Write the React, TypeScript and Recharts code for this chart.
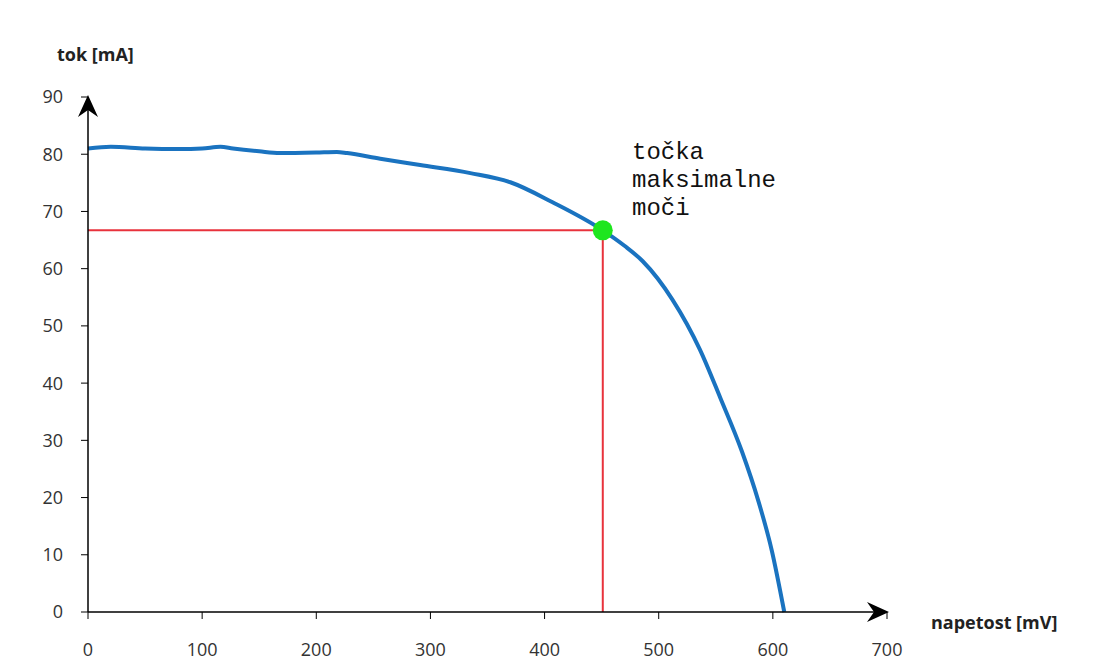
import { LineChart, Line, XAxis, YAxis, ReferenceLine, ReferenceDot, Customized } from "recharts";

// I-V curve of a solar cell
const voltage = [0, 20, 50, 80, 100, 116, 127, 150, 168, 200, 218, 227, 256, 291, 335, 370, 407, 451, 470, 486, 512, 536, 554, 573, 587, 599, 610];
const current = [81.0, 81.3, 81.0, 80.9, 81.0, 81.3, 81.0, 80.5, 80.2, 80.3, 80.4, 80.2, 79.2, 78.1, 76.7, 75.1, 71.6, 66.7, 64.0, 61.3, 54.6, 45.9, 37.4, 28.0, 19.6, 10.8, 0];

const xTicks = [0, 100, 200, 300, 400, 500, 600, 700];
const yTicks = [0, 10, 20, 30, 40, 50, 60, 70, 80, 90];

// maximum power point
const mppV = 451;
const mppI = 66.7;

const data = voltage.map((v, i) => ({ v, i: current[i] }));

const tickStyle = { fill: "#333", fontSize: 18, fontFamily: "Open Sans, sans-serif" };

const ArrowRight = (props: any) => {
  const { cx, cy } = props;
  return <path d={`M${cx + 2},${cy} L${cx - 20},${cy - 10} L${cx - 13},${cy} L${cx - 20},${cy + 10} Z`} fill="#000" />;
};

const ArrowUp = (props: any) => {
  const { cx, cy } = props;
  return <path d={`M${cx},${cy - 2} L${cx - 10},${cy + 20} L${cx},${cy + 13} L${cx + 10},${cy + 20} Z`} fill="#000" />;
};

const Labels = () => (
  <g>
    <text x={57} y={61} fontFamily="Open Sans, sans-serif" fontWeight={700} fontSize={18} fill="#222">
      tok [mA]
    </text>
    <text x={931} y={629} fontFamily="Open Sans, sans-serif" fontWeight={700} fontSize={18} fill="#222">
      napetost [mV]
    </text>
    <g fontFamily="Liberation Mono, monospace" fontSize={24} fill="#111">
      <text x={632} y={159}>točka</text>
      <text x={632} y={187}>maksimalne</text>
      <text x={632} y={215}>moči</text>
    </g>
  </g>
);

export default function App() {
  return (
    <div style={{ position: "absolute", left: 0, top: 0, background: "#fff" }}>
      <LineChart width={1094} height={669} data={data} margin={{ top: 97, right: 207, bottom: 17, left: 28 }}>
        <XAxis
          type="number"
          dataKey="v"
          domain={[0, 700]}
          ticks={xTicks}
          tick={tickStyle}
          tickSize={7}
          tickMargin={24}
          height={40}
          axisLine={{ stroke: "#000", strokeWidth: 1.5 }}
          tickLine={{ stroke: "#000" }}
        />
        <YAxis
          type="number"
          domain={[0, 90]}
          ticks={yTicks}
          tick={tickStyle}
          tickSize={7}
          tickMargin={18}
          width={60}
          axisLine={{ stroke: "#000", strokeWidth: 1.5 }}
          tickLine={{ stroke: "#000" }}
        />
        <ReferenceLine segment={[{ x: 0, y: mppI }, { x: mppV, y: mppI }]} stroke="#e8323c" strokeWidth={2} />
        <ReferenceLine segment={[{ x: mppV, y: 0 }, { x: mppV, y: mppI }]} stroke="#e8323c" strokeWidth={2} />
        <Line
          type="monotone"
          dataKey="i"
          stroke="#1a73c0"
          strokeWidth={4}
          dot={false}
          activeDot={false}
          isAnimationActive={false}
        />
        <ReferenceDot x={mppV} y={mppI} r={10} fill="#1ee61e" stroke="none" />
        <ReferenceDot x={700} y={0} ifOverflow="visible" shape={ArrowRight} />
        <ReferenceDot x={0} y={90} ifOverflow="visible" shape={ArrowUp} />
        <Customized component={Labels} />
      </LineChart>
    </div>
  );
}
